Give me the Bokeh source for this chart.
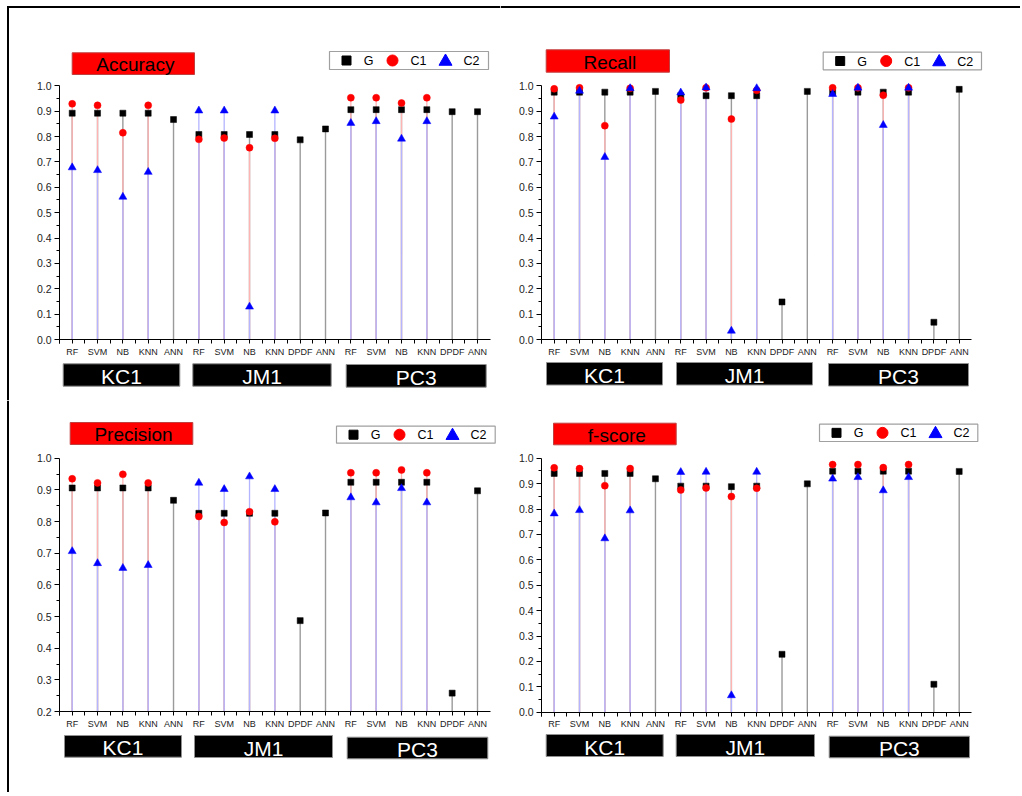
from bokeh.plotting import figure
from bokeh.layouts import row, column
from bokeh.models import Range1d, FixedTicker, NumeralTickFormatter
from bokeh.core.properties import value
from bokeh.embed import file_html
from bokeh.resources import INLINE

# ---------------- data ----------------
categories = ["RF", "SVM", "NB", "KNN", "ANN",
              "RF", "SVM", "NB", "KNN", "DPDF", "ANN",
              "RF", "SVM", "NB", "KNN", "DPDF", "ANN"]
groups = ["KC1", "JM1", "PC3"]
series_names = ["G", "C1", "C2"]
metric_names = ["Accuracy", "Recall", "Precision", "f-score"]

accuracy_G = [0.892, 0.892, 0.892, 0.892, 0.867, 0.808, 0.808, 0.808, 0.808, 0.787, 0.830,
              0.906, 0.906, 0.906, 0.906, 0.898, 0.898]
accuracy_C1 = [0.929, 0.923, 0.815, 0.923, None, 0.789, 0.794, 0.756, 0.793, None, None,
               0.953, 0.953, 0.932, 0.953, None, None]
accuracy_C2 = [0.678, 0.667, 0.562, 0.660, None, 0.902, 0.902, 0.129, 0.902, None, None,
               0.853, 0.860, 0.791, 0.860, None, None]

recall_G = [0.975, 0.975, 0.975, 0.975, 0.978, 0.961, 0.961, 0.961, 0.961, 0.148, 0.978,
            0.975, 0.975, 0.975, 0.975, 0.068, 0.986]
recall_C1 = [0.988, 0.992, 0.843, 0.990, None, 0.944, 0.992, 0.869, 0.982, None, None,
             0.992, 0.992, 0.963, 0.992, None, None]
recall_C2 = [0.878, 0.980, 0.719, 0.990, None, 0.973, 0.993, 0.034, 0.990, None, None,
             0.967, 0.992, 0.845, 0.992, None, None]

precision_G = [0.906, 0.906, 0.906, 0.906, 0.867, 0.826, 0.826, 0.826, 0.826, 0.487, 0.827,
               0.924, 0.924, 0.924, 0.924, 0.258, 0.897]
precision_C1 = [0.935, 0.922, 0.949, 0.922, None, 0.816, 0.797, 0.831, 0.799, None, None,
                0.954, 0.954, 0.963, 0.954, None, None]
precision_C2 = [0.706, 0.668, 0.653, 0.662, None, 0.922, 0.902, 0.942, 0.902, None, None,
                0.876, 0.860, 0.905, 0.860, None, None]

fscore_G = [0.940, 0.940, 0.940, 0.940, 0.919, 0.890, 0.890, 0.888, 0.890, 0.228, 0.899,
            0.949, 0.949, 0.949, 0.949, 0.110, 0.948]
fscore_C1 = [0.962, 0.959, 0.892, 0.959, None, 0.875, 0.883, 0.849, 0.882, None, None,
             0.975, 0.975, 0.963, 0.975, None, None]
fscore_C2 = [0.782, 0.795, 0.684, 0.794, None, 0.945, 0.946, 0.066, 0.946, None, None,
             0.919, 0.925, 0.873, 0.925, None, None]

y_ticks_full = [0.0, 0.1, 0.2, 0.3, 0.4, 0.5, 0.6, 0.7, 0.8, 0.9, 1.0]
y_ticks_precision = [0.2, 0.3, 0.4, 0.5, 0.6, 0.7, 0.8, 0.9, 1.0]

# ---------------- styling / layout ----------------
FONT_NAME = "Liberation Sans"
FONT = value(FONT_NAME)
STEM_COLORS = {"G": "#9a9a9a", "C1": "#ffb4b4", "C2": "#b4b4ff"}
MARK = {"G": ("square", "black", 6), "C1": ("circle", "red", 7), "C2": ("triangle", "blue", 8)}
LEG_MARK = {"G": ("square", "black", 9), "C1": ("circle", "red", 11), "C2": ("triangle", "blue", 13)}
LEG_OFFS = {"G": (17, 39), "C1": (63, 89), "C2": (116, 142)}

# the page places the layout at (0, 0); all pixel positions below are page pixels
panels = [
    dict(name=metric_names[0], series=[accuracy_G, accuracy_C1, accuracy_C2], yticks=y_ticks_full,
         ox=0, oy=0, W=500, H=400, x1=71.7, x17=477.0, ya=(1.0, 85.3), yb=(0.0, 339.0),
         title=(71.7, 194, 52.3, 74), legend=(329, 51, 488, 69),
         gboxes=[(62.7, 179.3, 363.3, 385.7), (192.3, 330.7, 363.3, 385.7), (345.7, 485.7, 364, 386.7)],
         left_line=True, top_line=True),
    dict(name=metric_names[1], series=[recall_G, recall_C1, recall_C2], yticks=y_ticks_full,
         ox=500, oy=0, W=520, H=400, x1=553.7, x17=958.7, ya=(1.0, 85.3), yb=(0.0, 339.0),
         title=(545.7, 669, 49.3, 71.7), legend=(822.7, 51.7, 981, 69.3),
         gboxes=[(546, 662, 362, 384.5), (676, 812, 362, 384.5), (828, 968, 363, 385.5)],
         left_line=False, top_line=True),
    dict(name=metric_names[2], series=[precision_G, precision_C1, precision_C2], yticks=y_ticks_precision,
         ox=0, oy=400, W=500, H=392, x1=71.7, x17=477.0, ya=(1.0, 457.7), yb=(0.2, 711.0),
         title=(69.7, 192.3, 422, 444), legend=(336, 425.7, 494.7, 442.7),
         gboxes=[(64, 181, 735, 756.7), (194, 332, 735, 757), (346.7, 487.3, 736.7, 758.3)],
         left_line=True, top_line=False),
    dict(name=metric_names[3], series=[fscore_G, fscore_C1, fscore_C2], yticks=y_ticks_full,
         ox=500, oy=400, W=520, H=392, x1=553.7, x17=958.7, ya=(1.0, 457.7), yb=(0.0, 711.7),
         title=(553, 675.7, 422.7, 444.3), legend=(819, 423.7, 977.3, 441),
         gboxes=[(545.7, 662.7, 734, 756), (675.7, 814, 734, 756), (828.7, 969, 735.7, 757.3)],
         left_line=False, top_line=False),
]
FRAME_TOP_Y = 6.5
FRAME_LEFT_X = 7.5


def build(cfg):
    ox, oy, W, H = cfg["ox"], cfg["oy"], cfg["W"], cfg["H"]
    n = len(categories)
    sx = (cfg["x17"] - cfg["x1"]) / (n - 1)
    x_start = 1 - (cfg["x1"] - ox) / sx
    x_end = x_start + W / sx
    (va, pa), (vb, pb) = cfg["ya"], cfg["yb"]
    sy = (pb - pa) / (va - vb)
    y_top = va + (pa - oy) / sy
    y_bot = y_top - H / sy

    def X(px):
        return x_start + (px - ox) / sx

    def Y(py):
        return y_top - (py - oy) / sy

    p = figure(width=W, height=H, x_range=Range1d(x_start, x_end), y_range=Range1d(y_bot, y_top),
               output_backend="svg", toolbar_location=None, title=None, min_border=0)
    p.outline_line_color = None
    p.grid.visible = False
    p.background_fill_color = "white"
    p.border_fill_color = "white"

    ymin = cfg["yticks"][0]
    ymax = cfg["yticks"][-1]
    xs = list(range(1, n + 1))

    # axes
    xa = p.xaxis[0]
    xa.fixed_location = ymin
    xa.bounds = (0.5, n + 0.5)
    xa.ticker = FixedTicker(ticks=xs, minor_ticks=[i + 0.5 for i in range(n)] + [0.5])
    xa.major_label_overrides = {i + 1: c for i, c in enumerate(categories)}
    xa.major_tick_out = 4
    xa.major_tick_in = 0
    xa.minor_tick_out = 4
    xa.minor_tick_in = 0
    xa.major_label_text_font = FONT_NAME
    xa.major_label_text_font_size = "9px"
    xa.major_label_text_color = "#222222"
    xa.major_label_standoff = 3
    xa.axis_line_color = "black"

    ya_ = p.yaxis[0]
    ya_.fixed_location = 0.5
    ya_.bounds = (ymin, ymax)
    ya_.ticker = FixedTicker(ticks=cfg["yticks"],
                             minor_ticks=[t + 0.05 for t in cfg["yticks"][:-1]])
    ya_.formatter = NumeralTickFormatter(format="0.0")
    ya_.major_tick_out = 5
    ya_.major_tick_in = 0
    ya_.minor_tick_out = 3
    ya_.minor_tick_in = 0
    ya_.major_label_text_font = FONT_NAME
    ya_.major_label_text_font_size = "10.5px"
    ya_.major_label_text_color = "#222222"
    ya_.major_label_standoff = 3
    ya_.axis_line_color = "black"

    # stems then markers (series order G, C1, C2)
    for name, vals in zip(series_names, cfg["series"]):
        px_ = [x for x, v in zip(xs, vals) if v is not None]
        pv = [v for v in vals if v is not None]
        p.segment(x0=px_, y0=[ymin] * len(px_), x1=px_, y1=pv,
                  line_color=STEM_COLORS[name], line_width=1.4 if name == "G" else 1.3)
    for name, vals in zip(series_names, cfg["series"]):
        px_ = [x for x, v in zip(xs, vals) if v is not None]
        pv = [v for v in vals if v is not None]
        mk, col, sz = MARK[name]
        p.scatter(px_, pv, marker=mk, size=sz, fill_color=col, line_color=col, line_width=0.5)

    # title box
    l, r, t, b = cfg["title"]
    p.quad(left=[X(l)], right=[X(r)], top=[Y(t)], bottom=[Y(b)],
           fill_color="#ff0000", line_color="#c04040", line_width=1)
    p.text(x=[X((l + r) / 2 + 2)], y=[Y((t + b) / 2 + 1)], text=[cfg["name"]],
           text_font=FONT, text_font_size="19px", text_color="black",
           text_align="center", text_baseline="middle")

    # legend box
    l, t, r, b = cfg["legend"]
    p.quad(left=[X(l)], right=[X(r)], top=[Y(t)], bottom=[Y(b)],
           fill_color="white", line_color="#a0a0a0", line_width=1.2)
    cy = (t + b) / 2
    for name in series_names:
        mo, to = LEG_OFFS[name]
        mk, col, sz = LEG_MARK[name]
        p.scatter([X(l + mo)], [Y(cy + (1 if mk == "triangle" else 0))], marker=mk, size=sz,
                  fill_color=col, line_color=col)
        p.text(x=[X(l + to)], y=[Y(cy + 0.5)], text=[name], text_font=FONT,
               text_font_size="12.5px", text_color="black",
               text_align="center", text_baseline="middle")

    # dataset group boxes
    for gname, (l, r, t, b) in zip(groups, cfg["gboxes"]):
        p.quad(left=[X(l)], right=[X(r)], top=[Y(t)], bottom=[Y(b)],
               fill_color="black", line_color="#909090", line_width=1)
        p.text(x=[X((l + r) / 2)], y=[Y((t + b) / 2 + 1.5)], text=[gname], text_font=FONT,
               text_font_size="21px", text_color="white",
               text_align="center", text_baseline="middle")

    # page frame lines
    if cfg["top_line"]:
        p.segment(x0=[X(max(ox, FRAME_LEFT_X - 1))], y0=[Y(FRAME_TOP_Y)], x1=[X(ox + W)],
                  y1=[Y(FRAME_TOP_Y)], line_color="black", line_width=2)
    if cfg["left_line"]:
        p.segment(x0=[X(FRAME_LEFT_X)], y0=[Y(max(oy, FRAME_TOP_Y - 1))], x1=[X(FRAME_LEFT_X)],
                  y1=[Y(oy + H)], line_color="black", line_width=2)
    return p


figs = [build(c) for c in panels]
layout = column(row(figs[0], figs[1], spacing=0), row(figs[2], figs[3], spacing=0), spacing=0)

open("out.html", "w").write(file_html(layout, INLINE))
